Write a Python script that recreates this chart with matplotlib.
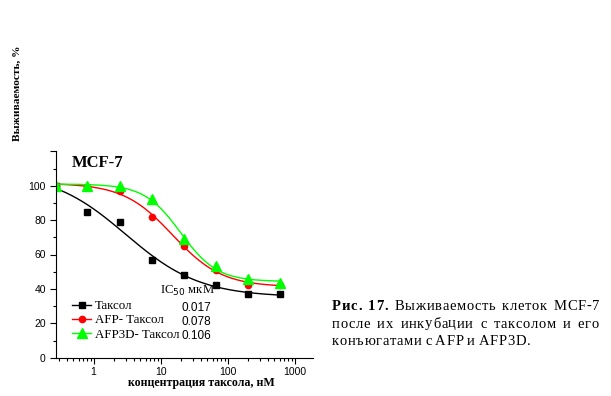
import matplotlib.pyplot as plt
import numpy as np
from matplotlib.ticker import FixedLocator, LogLocator, NullFormatter

# data
conc = [0.27, 0.8, 2.5, 7.4, 22, 67, 200, 600]          # nM
taxol = [100, 85, 79, 57, 48, 42, 37, 37]
afp_taxol = [100, 99.5, 97, 82, 65, 51, 42.5, 42.5]
afp3d_taxol = [100, 100, 100, 92.5, 69, 53.5, 45.5, 43.5]
labels = ["Таксол", "AFP- Таксол", "AFP3D- Таксол"]
ic50 = ["0.017", "0.078", "0.106"]

W, H = 611, 396


def px(x, y):
    return x / W, 1 - y / H


def fit_curve(x, y, xs):
    # least-squares 4-parameter logistic, drawn as the smooth line through the points
    x = np.asarray(x, float); y = np.asarray(y, float)
    lc = np.arange(-1, 3, 0.01)[:, None, None]
    hh = np.arange(0.3, 3, 0.02)[None, :, None]
    s = 1 / (1 + (x[None, None, :] / 10 ** lc) ** hh)
    a, c = 1 - s, s
    saa, scc, sac = (a * a).sum(-1), (c * c).sum(-1), (a * c).sum(-1)
    say, scy = (a * y).sum(-1), (c * y).sum(-1)
    det = saa * scc - sac ** 2
    bot = (scc * say - sac * scy) / det
    top = (saa * scy - sac * say) / det
    err = ((bot[..., None] * a + top[..., None] * c - y) ** 2).sum(-1)
    i, j = np.unravel_index(np.argmin(err), err.shape)
    sc = 1 / (1 + (xs / 10 ** lc[i, 0, 0]) ** hh[0, j, 0])
    return bot[i, j] + (top[i, j] - bot[i, j]) * sc


fig = plt.figure(figsize=(W / 100, H / 100), dpi=100)
l, b = px(55.5, 357.7)
r, t = px(313.3, 151.3)
ax = fig.add_axes([l, b, r - l, t - b])

xs = np.logspace(np.log10(conc[0]), np.log10(conc[-1]), 300)
series = [(taxol, "black", "s", 4.5), (afp_taxol, "red", "o", 4.5), (afp3d_taxol, "#00ff00", "^", 6.5)]
handles = []
for (vals, col, mk, ms), lab in zip(series, labels):
    ax.plot(xs, fit_curve(conc, vals, xs), color=col, lw=1)
    ax.plot(conc, vals, ls="none", marker=mk, color=col, ms=ms, mec=col)
    h, = ax.plot([], [], color=col, lw=1, marker=mk, ms=ms, label=lab)
    handles.append(h)

ax.set_xscale("log")
ax.set_xlim(0.27, 1900)
ax.set_ylim(0, 120)
ax.yaxis.set_major_locator(FixedLocator([0, 20, 40, 60, 80, 100, 120]))
ax.yaxis.set_minor_locator(FixedLocator([10, 30, 50, 70, 90, 110]))
ax.set_yticklabels(["0", "20", "40", "60", "80", "100", ""])
ax.xaxis.set_major_locator(FixedLocator([1, 10, 100, 1000]))
ax.set_xticklabels(["1", "10", "100", "1000"])
ax.xaxis.set_minor_locator(LogLocator(base=10, subs=np.arange(2, 10)))
ax.xaxis.set_minor_formatter(NullFormatter())
ax.tick_params(which="major", length=4, width=0.8, labelsize=7.5, pad=3)
ax.tick_params(which="minor", length=2.5, width=0.8)
for s in ["top", "right"]:
    ax.spines[s].set_visible(False)
for s in ["left", "bottom"]:
    ax.spines[s].set_linewidth(0.8)
for lbl in ax.get_xticklabels() + ax.get_yticklabels():
    lbl.set_family("Liberation Sans")

serif = "Liberation Serif"
fig.text(*px(72, 163), "MCF-7", family=serif, weight="bold", fontsize=12, va="center", ha="left")

leg = ax.legend(handles=handles, loc="upper left", bbox_to_anchor=px(72, 300), bbox_transform=fig.transFigure,
                frameon=False, prop={"family": serif, "size": 9.3}, handlelength=1.5, handletextpad=0.25,
                labelspacing=0.18, borderpad=0, borderaxespad=0)
fig.text(*px(160, 291), r"IC$_{\mathit{50}}$ мкМ", family=serif, fontsize=9.2, va="center", ha="left")
for i, v in enumerate(ic50):
    fig.text(*px(181, 308 + 14 * i), v, family="Liberation Sans", fontsize=8.5, va="center", ha="left")

fig.text(*px(17, 93), "Выживаемость, %", family=serif, weight="bold", fontsize=8.2,
         rotation=90, va="center", ha="center")
fig.text(*px(201, 383), "концентрация таксола, нМ", family=serif, weight="bold", fontsize=8.6,
         va="center", ha="center")

# caption: letter-spaced, justified between x=332 and x=599 except the last line
renderer = fig.canvas.get_renderer()
x0, x1, fs, track = 332, 599, 10.5, 0.7
cap_lines = [[("Рис.", "bold"), ("17.", "bold"), ("Выживаемость", "normal"), ("клеток", "normal"), ("MCF-7", "normal")],
             [(w, "normal") for w in "после их инкубации с таксолом и его".split()],
             [(w, "normal") for w in "конъюгатами с AFP и AFP3D.".split()]]
for k, words in enumerate(cap_lines):
    base = 1 - (310 + 17.5 * k) / H
    placed = []
    for w, wt in words:
        chars = [fig.text(0, base, ch, family=serif, weight=wt, fontsize=fs, va="baseline", ha="left") for ch in w]
        cw = [c.get_window_extent(renderer).width for c in chars]
        placed.append((chars, cw, sum(cw) + track * (len(cw) - 1)))
    total = sum(p[2] for p in placed)
    gap = (x1 - x0 - total) / (len(placed) - 1) if k < len(cap_lines) - 1 else fs * 0.35
    x = x0
    for chars, cw, wdt in placed:
        cx = x
        for c, w in zip(chars, cw):
            c.set_x(cx / W)
            cx += w + track
        x += wdt + gap

fig.savefig("out.png", dpi=100)
